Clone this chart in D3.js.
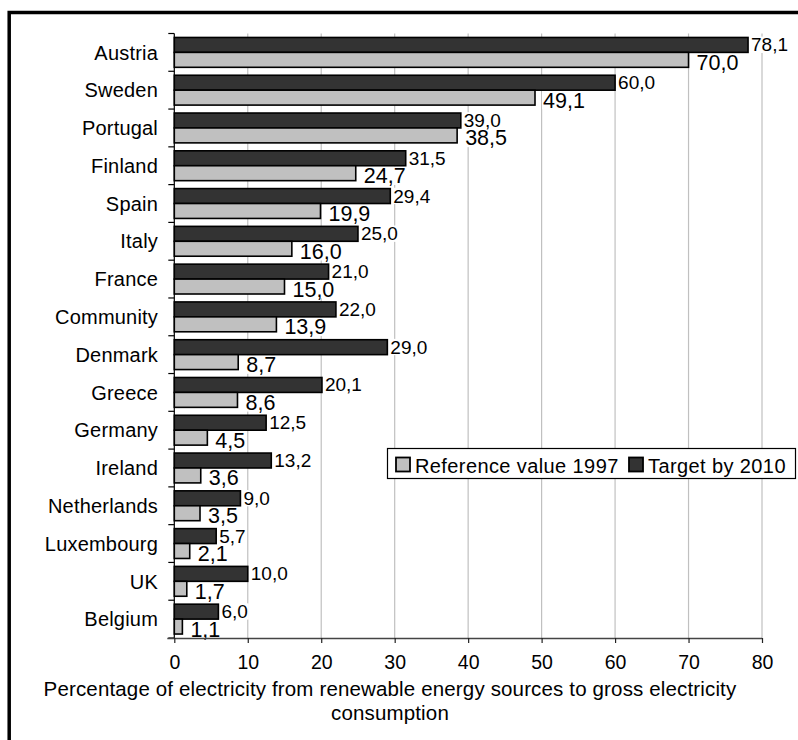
<!DOCTYPE html>
<html>
<head>
<meta charset="utf-8">
<script src="https://cdn.jsdelivr.net/npm/d3@7"></script>
<style>
  html, body { margin: 0; padding: 0; background: #fff; }
  svg { display: block; font-family: "Liberation Sans", Arial, Helvetica, sans-serif; }
</style>
</head>
<body>
<svg id="chart" width="798" height="740"></svg>
<script>
// Share of electricity from renewable sources, per member state
const categories = ["Austria", "Sweden", "Portugal", "Finland", "Spain", "Italy", "France",
  "Community", "Denmark", "Greece", "Germany", "Ireland", "Netherlands", "Luxembourg", "UK", "Belgium"];
const targetValues = [78.1, 60.0, 39.0, 31.5, 29.4, 25.0, 21.0, 22.0, 29.0, 20.1, 12.5, 13.2, 9.0, 5.7, 10.0, 6.0];
const referenceValues = [70.0, 49.1, 38.5, 24.7, 19.9, 16.0, 15.0, 13.9, 8.7, 8.6, 4.5, 3.6, 3.5, 2.1, 1.7, 1.1];
const xTicks = [0, 10, 20, 30, 40, 50, 60, 70, 80];
const seriesKeys = ["target", "reference"];
const seriesNames = { reference: "Reference value 1997", target: "Target by 2010" };
const axisTitleLines = ["Percentage of electricity from renewable energy sources to gross electricity", "consumption"];

const colors = { target: "#333333", reference: "#c0c0c0" };

const rows = categories.map((c, i) => ({ name: c, target: targetValues[i], reference: referenceValues[i] }));
const fmt = v => d3.format(".1f")(v).replace(".", ",");

const svg = d3.select("#chart");

const plot = { left: 174.3, right: 762, top: 33.5, bottom: 638 };

const x = d3.scaleLinear().domain([0, 80]).range([plot.left, plot.right]);
const y0 = d3.scaleBand().domain(categories).range([plot.top, plot.bottom])
  .paddingInner(0.21).paddingOuter(0.105);
const y1 = d3.scaleBand().domain(seriesKeys).range([0, y0.bandwidth()]);

// outer frame
svg.append("path")
  .attr("d", "M9.2,740 V12.5 H800")
  .attr("fill", "none").attr("stroke", "#000").attr("stroke-width", 3.5);

// vertical gridlines
svg.append("g").selectAll("line").data(xTicks.slice(1)).join("line")
  .attr("x1", d => x(d)).attr("x2", d => x(d))
  .attr("y1", plot.top).attr("y2", plot.bottom)
  .attr("stroke", "#c0c0c0").attr("stroke-width", 1.2);

// white boxes under value labels, then bars, then the label text
const labelBg = svg.append("g");
const barLayer = svg.append("g");
const labelLayer = svg.append("g");

const labelSpec = {
  target: { size: 19, dx: 3, dy: 6.5 },
  reference: { size: 21.5, dx: 8, dy: 10 }
};

rows.forEach(r => {
  seriesKeys.forEach(k => {
    const cy = y0(r.name) + y1(k) + y1.bandwidth() / 2;
    barLayer.append("rect")
      .attr("x", x(0))
      .attr("y", y0(r.name) + y1(k))
      .attr("width", x(r[k]) - x(0))
      .attr("height", y1.bandwidth())
      .attr("fill", colors[k])
      .attr("stroke", "#000").attr("stroke-width", 1.6);
    const s = labelSpec[k];
    const t = labelLayer.append("text")
      .attr("x", x(r[k]) + s.dx)
      .attr("y", cy + s.dy)
      .attr("font-size", s.size)
      .attr("fill", "#000")
      .text(fmt(r[k]));
    const w = t.node().getComputedTextLength();
    labelBg.append("rect")
      .attr("x", x(r[k]) + s.dx - 1)
      .attr("y", cy + s.dy - s.size * 0.78)
      .attr("width", w + 2)
      .attr("height", s.size * 0.86)
      .attr("fill", "#fff");
  });
});

// left axis with ticks at category boundaries
const step = y0.step();
const boundaries = d3.range(categories.length + 1).map(i => plot.top + i * step);
const leftAxis = svg.append("g");
leftAxis.append("line")
  .attr("x1", plot.left).attr("x2", plot.left)
  .attr("y1", plot.top).attr("y2", plot.bottom)
  .attr("stroke", "#000").attr("stroke-width", 1.2);
leftAxis.selectAll("line.tick").data(boundaries).join("line")
  .attr("class", "tick")
  .attr("x1", plot.left - 6).attr("x2", plot.left)
  .attr("y1", d => d).attr("y2", d => d)
  .attr("stroke", "#000").attr("stroke-width", 1.2);
leftAxis.selectAll("text").data(categories).join("text")
  .attr("x", 158)
  .attr("y", d => y0(d) + y0.bandwidth() / 2)
  .attr("dy", "0.36em")
  .attr("text-anchor", "end")
  .attr("font-size", 20)
  .attr("letter-spacing", 0.2)
  .attr("fill", "#000")
  .text(d => d);

// bottom axis
const xAxis = d3.axisBottom(x).tickValues(xTicks).tickSize(5).tickSizeOuter(0).tickPadding(12)
  .tickFormat(d3.format("d"));
const gx = svg.append("g").attr("transform", `translate(0,${plot.bottom})`).call(xAxis);
gx.select(".domain").attr("stroke", "#444").attr("stroke-width", 1.3)
  .attr("d", `M${plot.left - 7},0.5H${plot.right}`);
gx.selectAll(".tick line").attr("stroke", "#222").attr("stroke-width", 1.2);
gx.selectAll(".tick text").attr("font-size", 19.5).attr("fill", "#000")
  .attr("font-family", "'Liberation Sans', Arial, sans-serif");

// axis title
svg.append("g").selectAll("text").data(axisTitleLines).join("text")
  .attr("x", 390)
  .attr("y", (d, i) => 696 + i * 24)
  .attr("text-anchor", "middle")
  .attr("font-size", 20.5)
  .attr("letter-spacing", 0.15)
  .attr("fill", "#000")
  .text(d => d);

// legend
const legend = svg.append("g");
legend.append("rect")
  .attr("x", 387.5).attr("y", 448.5).attr("width", 408).attr("height", 30)
  .attr("fill", "#fff").attr("stroke", "#000").attr("stroke-width", 1.2);
const legendItems = [
  { key: "reference", sx: 396, tx: 415 },
  { key: "target", sx: 629, tx: 648 }
];
legendItems.forEach(it => {
  legend.append("rect")
    .attr("x", it.sx).attr("y", 457.5).attr("width", 14).attr("height", 14)
    .attr("fill", colors[it.key]).attr("stroke", "#000").attr("stroke-width", 1.8);
  legend.append("text")
    .attr("x", it.tx).attr("y", 473)
    .attr("font-size", 20).attr("letter-spacing", 0.4).attr("fill", "#000")
    .text(seriesNames[it.key]);
});
</script>
</body>
</html>
